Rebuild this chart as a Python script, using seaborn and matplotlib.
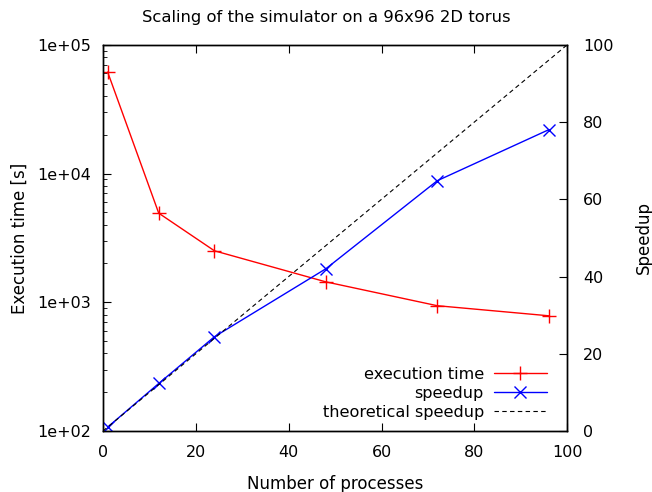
import matplotlib
matplotlib.use("Agg")
import matplotlib.pyplot as plt
import seaborn as sns
import pandas as pd

# dati
procs = [1, 12, 24, 48, 72, 96]
exec_time = [61400, 4920, 2510, 1440, 940, 785]
speedup = [1, 12.3, 24.4, 42.0, 64.8, 78.0]
theory_x = [0, 100]
theory_y = [0, 100]

x_ticks = [0, 20, 40, 60, 80, 100]
time_ticks = [1e2, 1e3, 1e4, 1e5]
time_labels = ["1e+02", "1e+03", "1e+04", "1e+05"]
speed_ticks = [0, 20, 40, 60, 80, 100]

sns.set_style("ticks")
plt.rcParams["font.family"] = ["DejaVu Sans"]
plt.rcParams["xtick.direction"] = "in"
plt.rcParams["ytick.direction"] = "in"
plt.rcParams["text.color"] = "black"
plt.rcParams["axes.labelcolor"] = "black"
plt.rcParams["xtick.color"] = "black"
plt.rcParams["ytick.color"] = "black"
plt.rcParams["axes.edgecolor"] = "black"

df = pd.DataFrame({"procs": procs, "time": exec_time, "speedup": speedup})
df_th = pd.DataFrame({"x": theory_x, "y": theory_y})

fig = plt.figure(figsize=(6.52, 4.92), dpi=100)
ax = fig.add_axes([0.158, 0.124, 0.712, 0.785])
ax2 = ax.twinx()

sns.lineplot(data=df, x="procs", y="time", ax=ax, color="red", lw=1,
             marker="+", markersize=10.5, markeredgewidth=1, markeredgecolor="red",
             label="execution time", legend=False)
sns.lineplot(data=df, x="procs", y="speedup", ax=ax2, color="blue", lw=1,
             marker="x", markersize=9, markeredgewidth=1, markeredgecolor="blue",
             label="speedup", legend=False)
sns.lineplot(data=df_th, x="x", y="y", ax=ax2, color="black", lw=0.8,
             linestyle=(0, (4, 3)), label="theoretical speedup", legend=False)

ax.set_yscale("log")
ax.set_xlim(0, 100)
ax.set_ylim(1e2, 1e5)
ax2.set_ylim(0, 100)
ax.set_xticks(x_ticks)
ax.set_yticks(time_ticks)
ax.set_yticklabels(time_labels)
ax2.set_yticks(speed_ticks)

ax.tick_params(axis="x", top=True, labelsize=11.5, length=6, pad=10)
ax.tick_params(axis="y", which="major", labelsize=11.5, length=6, pad=8.5)
ax.tick_params(axis="y", which="minor", length=3)
ax2.tick_params(axis="y", labelsize=11.5, length=6, pad=11.5)

for a in (ax, ax2):
    for s in a.spines.values():
        s.set_visible(True)
        s.set_linewidth(1)

ax.set_xlabel("Number of processes", fontsize=12, labelpad=11)
ax.set_ylabel("Execution time [s]", fontsize=12, labelpad=6)
ax2.set_ylabel("Speedup", fontsize=12, labelpad=15)
fig.suptitle("Scaling of the simulator on a 96x96 2D torus", fontsize=11.8, y=0.98)

h1, l1 = ax.get_legend_handles_labels()
h2, l2 = ax2.get_legend_handles_labels()
ax2.legend(h1 + h2, l1 + l2, loc="lower right", frameon=False, markerfirst=False,
           fontsize=11.6, handlelength=3.3, handletextpad=0.6, labelspacing=0.25,
           borderaxespad=0.3, bbox_to_anchor=(0.98, 0.0))

fig.savefig("out.png", dpi=100)
